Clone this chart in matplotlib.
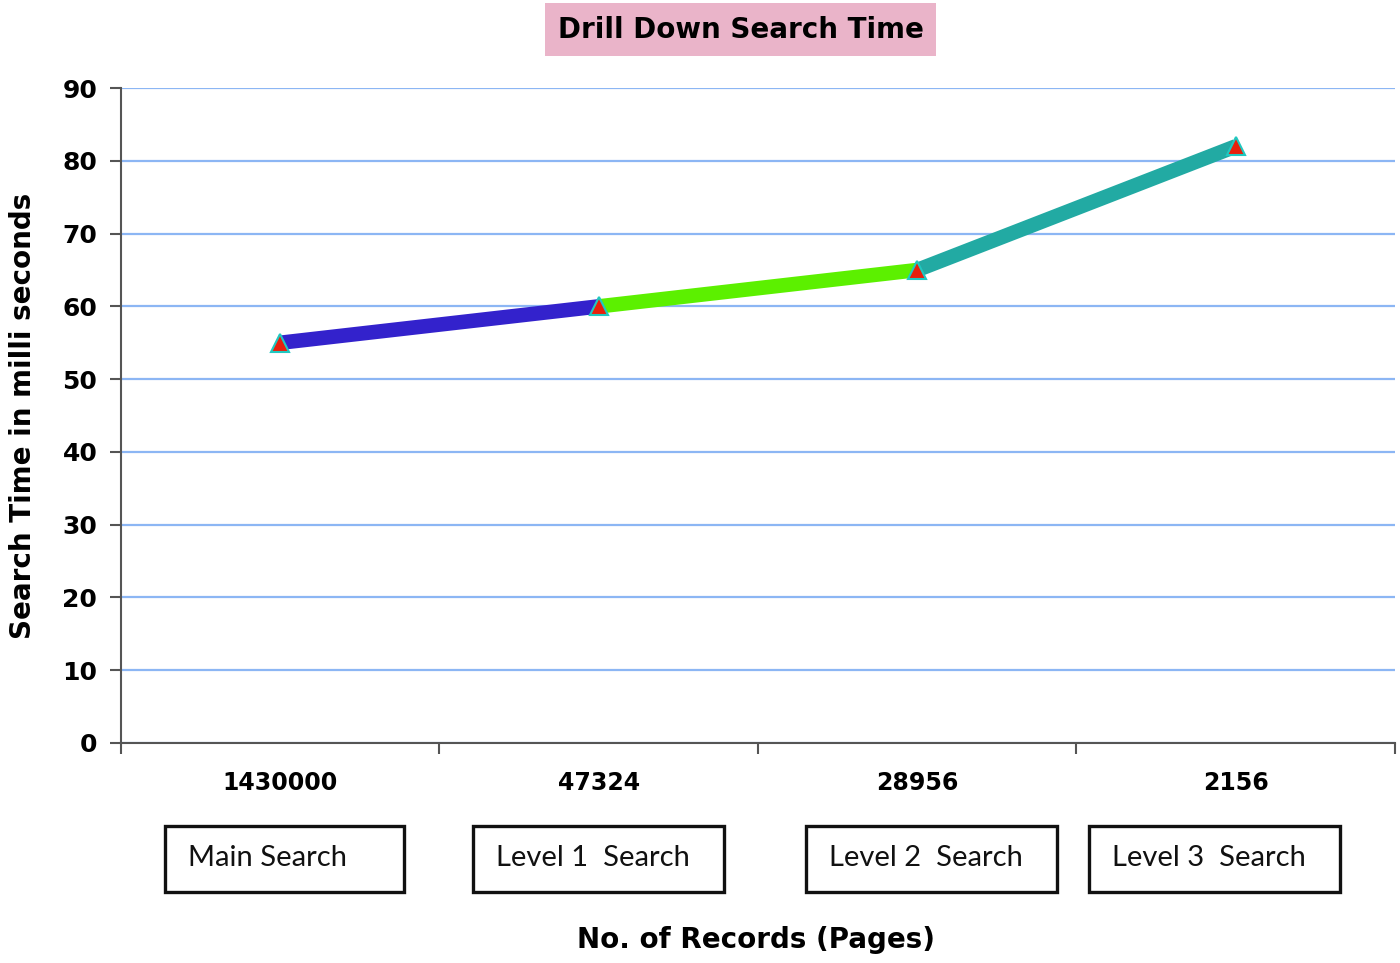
import matplotlib.pyplot as plt
from matplotlib.patches import Rectangle

record_counts = ["1430000", "47324", "28956", "2156"]
search_levels = ["Main Search", "Level 1  Search", "Level 2  Search", "Level 3  Search"]
search_times = [55, 60, 65, 82]
segment_colors = ["#3322cc", "#5cf000", "#22aaa3"]

fig = plt.figure(figsize=(14, 9.63), dpi=100)
ax = fig.add_axes([0.0864, 0.2285, 0.91, 0.68])

x = list(range(len(search_times)))
for i, c in enumerate(segment_colors):
    ax.plot(x[i:i + 2], search_times[i:i + 2], color=c, linewidth=10.5,
            solid_capstyle="butt", zorder=3)
ax.plot(x, search_times, linestyle="none", marker="^", markersize=13,
        markerfacecolor="#e8200c", markeredgecolor="#20c8c0",
        markeredgewidth=1.5, zorder=4)

ax.set_xlim(-0.5, len(x) - 0.5)
ax.set_ylim(0, 90)
ax.set_yticks(range(0, 91, 10))
ax.yaxis.grid(True, color="#8cb6f4", linewidth=1.6)
ax.set_axisbelow(True)

ax.set_xticks(x)
ax.set_xticklabels(record_counts, fontsize=17, fontweight="bold")
ax.set_xticks([i - 0.5 for i in range(len(x) + 1)], minor=True)
ax.tick_params(axis="x", which="major", length=0, pad=20)
ax.tick_params(axis="x", which="minor", length=8, width=1.5, color="#555555")
ax.tick_params(axis="y", length=8, width=1.5, color="#555555", labelsize=18, pad=9)
for lbl in ax.get_yticklabels():
    lbl.set_fontweight("bold")

for side in ["top", "right"]:
    ax.spines[side].set_visible(False)
for side in ["left", "bottom"]:
    ax.spines[side].set_color("#555555")
    ax.spines[side].set_linewidth(1.5)

ax.set_ylabel("Search Time in milli seconds", fontsize=20, fontweight="bold", labelpad=18)
fig.text(0.540, 0.024, "No. of Records (Pages)", ha="center", va="center",
         fontsize=20, fontweight="bold")

fig.text(0.529, 0.969, "Drill Down Search Time", ha="center", va="center",
         fontsize=20, fontweight="bold",
         bbox=dict(boxstyle="square,pad=0.45", facecolor="#eab4c9", edgecolor="none"))

# boxes under the category labels
box_lefts = [165, 473, 806, 1089]
box_widths = [239, 251, 251, 251]
for left, width, label in zip(box_lefts, box_widths, search_levels):
    fig.patches.append(Rectangle((left / 1400, 1 - 892 / 963), width / 1400, 66 / 963,
                                 transform=fig.transFigure, facecolor="white",
                                 edgecolor="#111111", linewidth=2.4))
    fig.text((left + 23) / 1400, 1 - 858 / 963, label, ha="left", va="center",
             fontsize=21, family=["Lato", "DejaVu Sans"], color="#111111")

fig.savefig("out.png", dpi=100)
